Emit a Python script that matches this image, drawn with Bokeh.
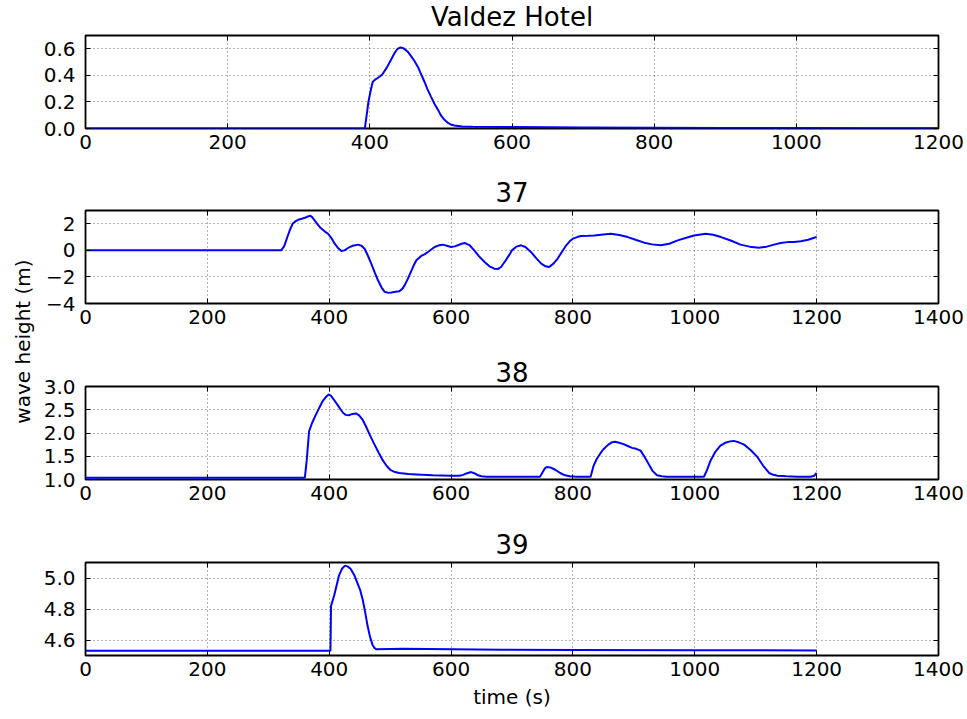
from bokeh.plotting import figure
from bokeh.layouts import row, column
from bokeh.models import Range1d, FixedTicker, LinearAxis, PrintfTickFormatter
from bokeh.core.properties import value
from bokeh.embed import file_html
from bokeh.resources import INLINE

# ---------------- data ----------------
valdez_t = [0, 393, 396, 398, 401, 404, 408, 411, 415, 418, 424, 430, 435, 439, 443, 447, 453,
            458, 463, 468, 472, 477, 481, 486, 491, 496, 500, 505, 510, 515, 519, 530, 545,
            600, 700, 800, 900, 1000, 1100, 1200]
valdez_h = [0, 0, 0.12, 0.2, 0.28, 0.35, 0.37, 0.38, 0.395, 0.41, 0.46, 0.52, 0.57, 0.60, 0.61,
            0.605, 0.58, 0.545, 0.506, 0.46, 0.41, 0.35, 0.296, 0.24, 0.185, 0.14, 0.099,
            0.065, 0.042, 0.028, 0.022, 0.015, 0.013, 0.011, 0.008, 0.006, 0.004, 0.003,
            0.002, 0.001]

g37_t = [0, 321, 326, 332, 336, 340, 345, 349, 355, 360, 365, 369, 372, 376, 381, 386, 392,
         398, 404, 409, 414, 420, 425, 431, 439, 447, 453, 458, 463, 469, 475, 480, 486, 491,
         497, 502, 509, 515, 520, 524, 529, 534, 539, 543, 551, 557, 562, 568, 573, 580, 586,
         593, 600, 606, 611, 617, 623, 630, 638, 646, 655, 663, 671, 677, 682, 689, 695, 700,
         707, 715, 722, 731, 740, 748, 755, 761, 768, 775, 782, 789, 795, 800, 807, 813, 825,
         835, 850, 862, 876, 890, 904, 917, 930, 944, 958, 972, 986, 999, 1010, 1018, 1030,
         1043, 1060, 1075, 1090, 1105, 1118, 1130, 1141, 1152, 1163, 1174, 1186, 1196, 1200]
g37_h = [0, 0, 0.3, 1.1, 1.6, 2.0, 2.2, 2.3, 2.38, 2.45, 2.55, 2.6, 2.5, 2.25, 1.95, 1.68, 1.45,
         1.25, 0.9, 0.5, 0.2, -0.05, 0.0, 0.18, 0.35, 0.43, 0.35, 0.12, -0.35, -1.0, -1.7,
         -2.25, -2.8, -3.12, -3.2, -3.18, -3.12, -3.08, -2.9, -2.62, -2.15, -1.62, -1.1,
         -0.75, -0.42, -0.28, -0.12, 0.08, 0.25, 0.38, 0.43, 0.35, 0.25, 0.3, 0.38, 0.5,
         0.55, 0.4, 0.0, -0.45, -0.88, -1.2, -1.38, -1.4, -1.25, -0.8, -0.38, 0.0, 0.28,
         0.38, 0.25, -0.12, -0.6, -1.0, -1.2, -1.25, -1.0, -0.62, -0.1, 0.38, 0.7, 0.88, 1.0,
         1.08, 1.1, 1.12, 1.2, 1.25, 1.15, 1.0, 0.78, 0.58, 0.45, 0.38, 0.5, 0.75, 0.95,
         1.12, 1.2, 1.25, 1.18, 1.0, 0.72, 0.43, 0.28, 0.2, 0.28, 0.43, 0.55, 0.62, 0.63,
         0.68, 0.8, 0.95, 1.0]

g38_t = [0, 360, 363, 367, 372, 378, 384, 389, 395, 399, 403, 408, 414, 419, 423, 427, 432,
         438, 444, 449, 455, 460, 467, 474, 481, 488, 495, 501, 508, 515, 530, 543, 570, 600,
         614, 620, 625, 633, 639, 644, 650, 658, 746, 750, 754, 757, 763, 771, 779, 787, 795,
         806, 829, 834, 839, 845, 850, 858, 864, 869, 876, 883, 890, 897, 904, 911, 917, 924,
         931, 938, 946, 954, 1015, 1020, 1026, 1034, 1042, 1050, 1058, 1064, 1072, 1081, 1092,
         1103, 1112, 1122, 1129, 1136, 1150, 1169, 1190, 1196, 1200]
g38_h = [1.04, 1.04, 1.4, 2.04, 2.22, 2.39, 2.55, 2.68, 2.78, 2.83, 2.8, 2.71, 2.6, 2.5, 2.43,
         2.39, 2.38, 2.41, 2.42, 2.38, 2.28, 2.15, 1.95, 1.76, 1.58, 1.41, 1.28, 1.2, 1.16,
         1.14, 1.12, 1.11, 1.09, 1.08, 1.08, 1.1, 1.13, 1.16, 1.13, 1.09, 1.07, 1.06, 1.06,
         1.15, 1.24, 1.27, 1.26, 1.21, 1.14, 1.09, 1.07, 1.06, 1.06, 1.3, 1.44, 1.56, 1.65,
         1.75, 1.8, 1.81, 1.79, 1.76, 1.72, 1.68, 1.66, 1.62, 1.5, 1.34, 1.18, 1.09, 1.07,
         1.06, 1.06, 1.2, 1.41, 1.6, 1.73, 1.79, 1.82, 1.83, 1.8, 1.75, 1.63, 1.48, 1.3, 1.14,
         1.1, 1.08, 1.07, 1.06, 1.06, 1.08, 1.14]

g39_t = [0, 400, 402, 403, 408, 412, 416, 421, 426, 430, 435, 441, 446, 451, 455, 459, 463,
         467, 471, 474, 477, 500, 520, 600, 685, 800, 1000, 1200]
g39_h = [4.53, 4.53, 4.53, 4.82, 4.886, 4.95, 5.015, 5.06, 5.08, 5.075, 5.06, 5.02, 4.97, 4.92,
         4.86, 4.78, 4.69, 4.62, 4.57, 4.55, 4.54, 4.542, 4.543, 4.54, 4.537, 4.535, 4.534,
         4.533]

titles = ["Valdez Hotel", "37", "38", "39"]
x_ticks_short = [0, 200, 400, 600, 800, 1000, 1200]
x_ticks_long = [0, 200, 400, 600, 800, 1000, 1200, 1400]
y_ticks_valdez = [0.0, 0.2, 0.4, 0.6]
y_ticks_37 = [-4, -2, 0, 2]
y_ticks_38 = [1.0, 1.5, 2.0, 2.5, 3.0]
y_ticks_39 = [4.6, 4.8, 5.0]
y_label = "wave height (m)"
x_label = "time (s)"

FONT = "DejaVu Sans"
LINE = "#0000ff"
STRIP_H = 33


def title_strip(text, xr):
    s = figure(width=927, height=STRIP_H, x_range=Range1d(*xr), y_range=Range1d(0, STRIP_H),
               x_axis_type=None, y_axis_type=None,
               output_backend="svg", toolbar_location=None,
               min_border_left=44, min_border_right=29, min_border_top=0, min_border_bottom=0)
    s.grid.visible = False
    s.outline_line_color = None
    s.text(x=[(xr[0] + xr[1]) / 2], y=[16.5], text=[text], text_align="center",
           text_baseline="middle", text_font=value(FONT), text_font_size="26px",
           text_color="black")
    return s


def panel(t, h, xr, yr, xticks, yticks, height, bottom, top_border=2, title=None,
          xlabel=None, overrides=None, yfmt=None):
    p = figure(width=927, height=height, x_range=Range1d(*xr), y_range=Range1d(*yr),
               output_backend="svg", toolbar_location=None, title=title,
               min_border_left=44, min_border_right=29, min_border_top=top_border,
               min_border_bottom=bottom)
    if title:
        p.title.align = "center"
        p.title.text_font = FONT
        p.title.text_font_size = "26px"
        p.title.text_font_style = "normal"
        p.title.text_color = "black"
        p.title.standoff = 9
    p.background_fill_color = "white"
    p.border_fill_color = "white"
    p.outline_line_color = "black"
    p.outline_line_width = 1.8

    p.xaxis.ticker = FixedTicker(ticks=xticks)
    p.yaxis.ticker = FixedTicker(ticks=yticks)
    for ax in (p.xaxis[0], p.yaxis[0]):
        ax.axis_line_color = None
        ax.major_tick_in = 5
        ax.major_tick_out = 0
        ax.minor_tick_line_color = None
        ax.major_tick_line_color = "black"
        ax.major_label_text_font = FONT
        ax.major_label_text_font_size = "20px"
        ax.major_label_text_color = "black"
    p.xaxis.major_label_standoff = 6
    p.yaxis.major_label_standoff = 10
    if yfmt:
        p.yaxis.formatter = PrintfTickFormatter(format=yfmt)
    if overrides:
        p.yaxis.major_label_overrides = overrides
    if xlabel:
        p.xaxis.axis_label = xlabel
        p.xaxis.axis_label_text_font = FONT
        p.xaxis.axis_label_text_font_size = "20px"
        p.xaxis.axis_label_text_font_style = "normal"
        p.xaxis.axis_label_text_color = "black"
        p.xaxis.axis_label_standoff = 6

    # ticks on top and right (classic style), without labels
    top = LinearAxis(ticker=FixedTicker(ticks=xticks), axis_line_color=None,
                     major_tick_in=5, major_tick_out=0, minor_tick_line_color=None,
                     major_label_text_color=None, major_label_text_font_size="1px",
                     major_label_standoff=0)
    right = LinearAxis(ticker=FixedTicker(ticks=yticks), axis_line_color=None,
                       major_tick_in=5, major_tick_out=0, minor_tick_line_color=None,
                       major_label_text_color=None, major_label_text_font_size="1px",
                       major_label_standoff=0)
    p.add_layout(top, "above")
    p.add_layout(right, "right")

    p.xgrid.ticker = FixedTicker(ticks=xticks)
    p.ygrid.ticker = FixedTicker(ticks=yticks)
    for g in (p.xgrid[0], p.ygrid[0]):
        g.grid_line_color = "black"
        g.grid_line_alpha = 0.75
        g.grid_line_width = 0.8
        g.grid_line_dash = "1 3"

    p.line(t, h, line_color=LINE, line_width=2)
    return p


p1 = panel(valdez_t, valdez_h, (0, 1200), (0, 0.7), x_ticks_short, y_ticks_valdez,
           142, 47, yfmt="%.1f")
p2 = panel(g37_t, g37_h, (0, 1400), (-4, 3), x_ticks_long, y_ticks_37, 143, 48,
           overrides={-4: "\u22124", -2: "\u22122"})
# panel 38 keeps its title in its own top border so that the "3.0" label has room
p3 = panel(g38_t, g38_h, (0, 1400), (1.0, 3.0), x_ticks_long, y_ticks_38, 176, 48,
           top_border=35, title=titles[2], yfmt="%.1f")
p4 = panel(g39_t, g39_h, (0, 1400), (4.5, 5.1), x_ticks_long, y_ticks_39, 159, 64,
           xlabel=x_label, yfmt="%.1f")

s1 = title_strip(titles[0], (0, 1200))
s2 = title_strip(titles[1], (0, 1400))
s4 = title_strip(titles[3], (0, 1400))

lab = figure(width=40, height=719, x_range=Range1d(0, 40), y_range=Range1d(0, 719),
             x_axis_type=None, y_axis_type=None,
             output_backend="svg", toolbar_location=None, min_border=0)
lab.grid.visible = False
lab.outline_line_color = None
lab.text(x=[22], y=[719 - 341], text=[y_label], angle=90, angle_units="deg",
         text_align="center", text_baseline="middle", text_font=value(FONT),
         text_font_size="20px", text_color="black")

layout = row(lab, column(s1, p1, s2, p2, p3, s4, p4))
open("out.html", "w").write(file_html(layout, INLINE))
